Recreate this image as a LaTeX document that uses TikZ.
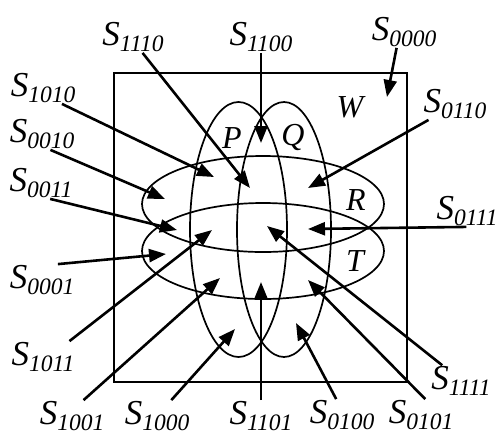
\documentclass[tikz,border=0pt]{standalone}
\usepackage{fontspec}
\setmainfont{Liberation Serif}
\usetikzlibrary{arrows.meta}

\newcommand\setname[1]{{\fontsize{35}{35}\selectfont\itshape S}{\fontsize{23.5}{23.5}\selectfont\itshape\raisebox{-6pt}{#1}}}
\newcommand\bigletter[1]{{\fontsize{32}{32}\selectfont\itshape #1}}

\tikzset{
  lab/.style={inner sep=1pt},
  pointer/.style={line width=2.6pt,-{Triangle[length=17pt,width=13pt]}},
  region/.style={line width=1.7pt}
}

\begin{document}
\begin{tikzpicture}[x=1pt,y=-1pt]
    \useasboundingbox (0,0) rectangle (497,437);
    % universe and the four sets
    \draw[region] (114,73) rectangle (407,382);
    \draw[region] (238.5,229.5) ellipse [x radius=48.5pt,y radius=127.5pt];
    \draw[region] (284,229.5) ellipse [x radius=47pt,y radius=127.5pt];
    \draw[region] (263,204) ellipse [x radius=121pt,y radius=48pt];
    \draw[region] (263,251) ellipse [x radius=121pt,y radius=48pt];
    \node (p) at (232,138) {\bigletter{P}};
    \node (q) at (293,137) {\bigletter{Q}};
    \node (w) at (350,107) {\bigletter{W}};
    \node (r) at (356,200) {\bigletter{R}};
    \node (t) at (355,261) {\bigletter{T}};

    % labels
    \node[lab] (s1110) at (133,37) {\setname{1110}};
    \node[lab] (s1100) at (261,37) {\setname{1100}};
    \node[lab] (s0000) at (404,32) {\setname{0000}};
    \node[lab] (s1010) at (43,88) {\setname{1010}};
    \node[lab] (s0010) at (42,134) {\setname{0010}};
    \node[lab] (s0011) at (41,183) {\setname{0011}};
    \node[lab] (s0110) at (455,104) {\setname{0110}};
    \node[lab] (s0111) at (467,211) {\setname{0111}};
    \node[lab] (s0001) at (42,280) {\setname{0001}};
    \node[lab] (s1011) at (43,357) {\setname{1011}};
    \node[lab] (s1001) at (72,416) {\setname{1001}};
    \node[lab] (s1000) at (157,416) {\setname{1000}};
    \node[lab] (s1101) at (261,416) {\setname{1101}};
    \node[lab] (s0100) at (342,415) {\setname{0100}};
    \node[lab] (s0101) at (421,415) {\setname{0101}};
    \node[lab] (s1111) at (461,381) {\setname{1111}};

    % arrow tips inside the regions
    \coordinate (t1110) at (250,188);
    \coordinate (t1100) at (261,143);
    \coordinate (t0000) at (387,97);
    \coordinate (t1010) at (214,177);
    \coordinate (t0010) at (165,199);
    \coordinate (t0011) at (177,230);
    \coordinate (t0110) at (308,188);
    \coordinate (t0111) at (308,229);
    \coordinate (t0001) at (166,254);
    \coordinate (t1011) at (212,230);
    \coordinate (t1001) at (220,278);
    \coordinate (t1000) at (235,329);
    \coordinate (t1101) at (261,282);
    \coordinate (t0100) at (296,323);
    \coordinate (t0101) at (308,280);
    \coordinate (t1111) at (267,226);

    \draw[pointer] (s1110.-59) -- (t1110);
    \draw[pointer] (s1100.south) -- (t1100);
    \draw[pointer] (s0000.-115) -- (t0000);
    \draw[pointer] (s1010.-40) -- (t1010);
    \draw[pointer] (s0010.-62) -- (t0010);
    \draw[pointer] (s0011.-60) -- (t0011);
    \draw[pointer] (s0110.-149) -- (t0110);
    \draw[pointer] (s0111.-92) -- (t0111);
    \draw[pointer] (s0001.45) -- (t0001);
    \draw[pointer] (s1011.31) -- (t1011);
    \draw[pointer] (s1001.54) -- (t1001);
    \draw[pointer] (s1000.48) -- (t1000);
    \draw[pointer] (s1101.north) -- (t1101);
    \draw[pointer] (s0100.110) -- (t0100);
    \draw[pointer] (s0101.75) -- (t0101);
    \draw[pointer] (s1111.140) -- (t1111);
\end{tikzpicture}
\end{document}
